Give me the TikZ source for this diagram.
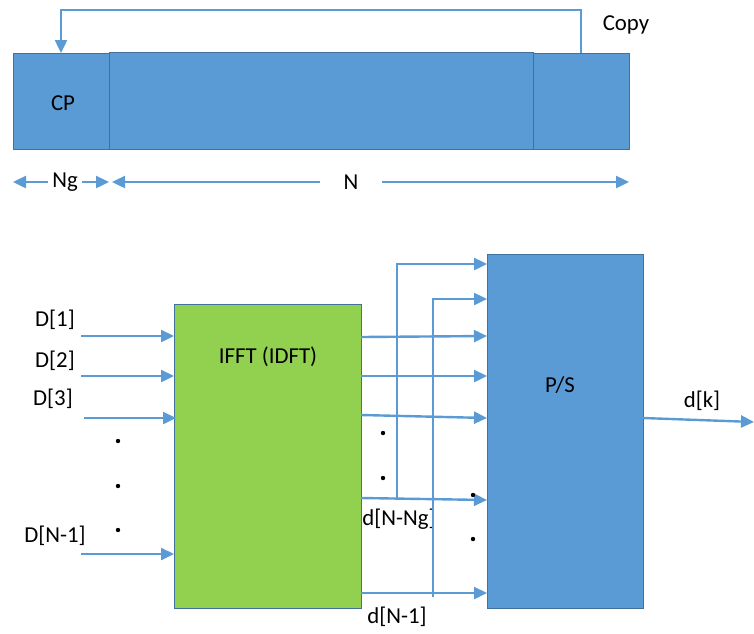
\documentclass[tikz,border=0pt]{standalone}
\usepackage{fontspec}
\setmainfont{Carlito}
\usepackage{tikz}
\usetikzlibrary{arrows.meta}

\definecolor{lineblue}{HTML}{5B9BD5}
\definecolor{boxblue}{HTML}{5B9BD5}
\definecolor{edgeblue}{HTML}{41719C}
\definecolor{ifftgreen}{HTML}{92D050}

\tikzset{
  arr/.style={draw=lineblue, line width=2.4pt, -{Triangle[length=13pt,width=12pt]}},
  blockbox/.style={draw=edgeblue, line width=1pt, inner sep=0pt, outer sep=0pt},
}

\begin{document}
\begin{tikzpicture}[x=1pt,y=-1pt,font=\fontsize{22.8}{27}\selectfont]
			\useasboundingbox (0,0) rectangle (754,633);
			
			% symbol with cyclic prefix
			\node [blockbox, fill=boxblue, minimum width=96pt, minimum height=96pt] (cp) at (61,101) {};
			\node [blockbox, fill=boxblue, minimum width=424pt, minimum height=97pt] (body) at (321,100.5) {};
			\node [blockbox, fill=boxblue, minimum width=96pt, minimum height=96pt] (tail) at (581,101) {};
			\node at (63,103) (cplbl) {CP};
			\draw [arr] (tail.north) -- ++(0,-43) -| (cp.north);
			\node at (626,25) (copy) {Copy};
			
			\node [inner xsep=4pt] at (65,182) (ng) {Ng};
			\draw [arr] (ng.west) -- (cp.south west |- ng.west);
			\draw [arr] (ng.east) -- (cp.south east |- ng.east);
			\node [inner xsep=23pt] at (351,182) (n) {N};
			\draw [arr] (n.west) -- ([xshift=3pt]body.south west |- n.west);
			\draw [arr] (n.east) -- (tail.south east |- n.east);
			
			% IFFT and P/S blocks
			\node [blockbox, fill=ifftgreen, minimum width=187pt, minimum height=304pt] (ifft) at (267.5,456) {};
			\node at (268,357) (ifftlbl) {IFFT (IDFT)};
			\node [blockbox, fill=boxblue, minimum width=156pt, minimum height=354pt] (ps) at (565,431) {};
			\node at (560,385) (pslbl) {P/S};
			
			% inputs
			\node at (55,320) (din1) {D[1]};
			\node at (55,361) (din2) {D[2]};
			\node at (53,399) (din3) {D[3]};
			\node at (55,536) (dinN) {D[N-1]};
			\coordinate (in1) at (81,336);
			\coordinate (in2) at (81,376);
			\coordinate (in3) at (84,418);
			\coordinate (inN) at (81,554);
			\draw [arr] (in1) -- (in1 -| ifft.west);
			\draw [arr] (in2) -- (in2 -| ifft.west);
			\draw [arr] (in3) -- ([xshift=2pt]in3 -| ifft.west);
			\draw [arr] (inN) -- (inN -| ifft.west);
			\fill (118,441) circle[radius=2.2pt];
			\fill (118,486) circle[radius=2.2pt];
			\fill (118,530) circle[radius=2.2pt];
			
			% outputs
			\draw [arr] (ifft.east |- 0,337) -- (ps.west |- 0,336);
			\draw [arr] (ifft.east |- 0,376) -- (ps.west |- 0,376);
			\draw [arr] (ifft.east |- 0,415) -- (ps.west |- 0,418);
			\draw [arr] (ifft.east |- 0,498) -- (ps.west |- 0,500);
			\draw [arr] (ifft.east |- 0,593) -- (ps.west |- 0,593);
			\fill (383,433) circle[radius=2.2pt];
			\fill (383,478) circle[radius=2.2pt];
			\fill (473,495) circle[radius=2.2pt];
			\fill (473,539) circle[radius=2.2pt];
			\node at (399,519) (dNNg) {d[N-Ng]};
			\node at (397,617) (dN1) {d[N-1]};
			
			% copied samples
			\coordinate (tap1) at (397,498.5);
			\coordinate (tap2) at (433,597);
			\draw [arr] (tap1) |- (ps.west |- 0,264);
			\draw [arr] (tap2) |- (ps.west |- 0,299);
			
			% serial output
			\coordinate (dkend) at (754,422);
			\draw [arr] (ps.east |- 0,418) -- (dkend);
			\node at (702,401) (dk) {d[k]};
			
			\end{tikzpicture}
\end{document}
